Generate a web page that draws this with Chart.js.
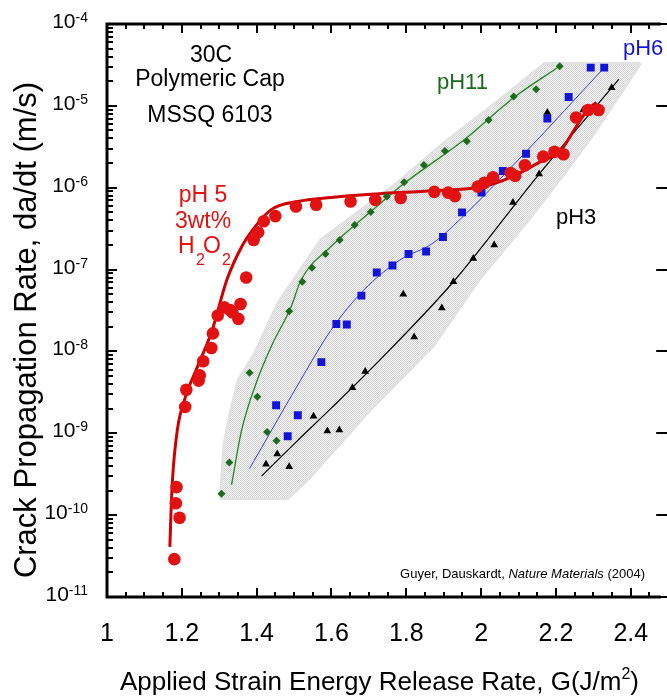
<!DOCTYPE html>
<html>
<head>
<meta charset="utf-8">
<script src="https://cdn.jsdelivr.net/npm/chart.js@4.4.1/dist/chart.umd.min.js"></script>
<style>
  html, body { margin: 0; padding: 0; background: #fff; overflow: hidden; }
</style>
</head>
<body>
<canvas id="crackChart" width="667" height="698"></canvas>
<script>
// tick labels
const xTickLabels = [1, 1.2, 1.4, 1.6, 1.8, 2, 2.2, 2.4];
const yTickExponents = [-4, -5, -6, -7, -8, -9, -10, -11];

// pH 5 + 3wt% H2O2 (red circles) and its fit
const ph5G = [1.180, 1.194, 1.184, 1.186, 1.209, 1.212, 1.245, 1.248, 1.257, 1.279, 1.283, 1.296, 1.314, 1.329, 1.335, 1.351, 1.357, 1.372, 1.392, 1.404, 1.419, 1.450, 1.505, 1.559, 1.651, 1.717, 1.785, 1.875, 1.912, 1.930, 1.991, 2.009, 2.032, 2.079, 2.091, 2.117, 2.166, 2.196, 2.220, 2.254, 2.286, 2.314];
const ph5Rate = [2.9e-11, 9.3e-11, 1.4e-10, 2.2e-10, 2.1e-9, 3.4e-9, 4.4e-9, 5.1e-9, 7.6e-9, 1.1e-8, 1.66e-8, 2.75e-8, 3.45e-8, 3.2e-8, 3.0e-8, 2.5e-8, 3.8e-8, 8.0e-8, 2.3e-7, 2.85e-7, 3.9e-7, 4.5e-7, 5.9e-7, 6.2e-7, 6.8e-7, 7.1e-7, 7.5e-7, 8.9e-7, 8.7e-7, 7.9e-7, 1.03e-6, 1.15e-6, 1.34e-6, 1.51e-6, 1.4e-6, 1.88e-6, 2.4e-6, 2.75e-6, 2.56e-6, 7.2e-6, 8.9e-6, 8.9e-6];
const ph5FitG = [1.168, 1.171, 1.175, 1.188, 1.210, 1.246, 1.281, 1.320, 1.360, 1.395, 1.439, 1.510, 1.598, 1.721, 1.871, 2.003, 2.082, 2.152, 2.214, 2.249, 2.284, 2.308];
const ph5FitRate = [4.1e-11, 1.05e-10, 2.7e-10, 1.1e-9, 2.8e-9, 7.2e-9, 1.8e-8, 7.4e-8, 1.9e-7, 3.3e-7, 5.4e-7, 6.8e-7, 7.6e-7, 8.4e-7, 9.2e-7, 1.03e-6, 1.36e-6, 2.0e-6, 2.9e-6, 5.1e-6, 8.9e-6, 1.1e-5];

// pH 11 (green diamonds)
const ph11G = [1.306, 1.327, 1.381, 1.402, 1.428, 1.453, 1.487, 1.522, 1.548, 1.584, 1.622, 1.662, 1.705, 1.748, 1.794, 1.847, 1.903, 1.962, 2.020, 2.087, 2.147, 2.210];
const ph11Rate = [1.83e-10, 4.4e-10, 5.5e-9, 2.8e-9, 1.04e-9, 8.1e-10, 3.1e-8, 7.1e-8, 1.05e-7, 1.55e-7, 2.3e-7, 3.5e-7, 5.05e-7, 7.8e-7, 1.17e-6, 1.9e-6, 2.8e-6, 3.7e-6, 6.7e-6, 1.3e-5, 1.6e-5, 3.04e-5];
const ph11FitG = [1.333, 1.360, 1.402, 1.439, 1.492, 1.519, 1.598, 1.721, 1.783, 1.959, 2.091, 2.210];
const ph11FitRate = [2.36e-10, 1.1e-9, 4.5e-9, 1.15e-8, 3.5e-8, 7.5e-8, 1.9e-7, 5.9e-7, 1.03e-6, 4.0e-6, 1.3e-5, 3.04e-5];

// pH 6 (blue squares)
const ph6G = [1.452, 1.483, 1.510, 1.573, 1.613, 1.641, 1.680, 1.721, 1.763, 1.806, 1.853, 1.898, 1.949, 2.001, 2.058, 2.120, 2.177, 2.234, 2.293, 2.329];
const ph6Rate = [2.2e-9, 9.2e-10, 1.66e-9, 7.4e-9, 2.16e-8, 2.13e-8, 4.8e-8, 9.2e-8, 1.12e-7, 1.55e-7, 1.66e-7, 2.5e-7, 5.0e-7, 8.7e-7, 1.6e-6, 2.6e-6, 7.0e-6, 1.28e-5, 2.93e-5, 2.93e-5];
const ph6FitG = [1.381, 1.518, 1.598, 1.686, 1.783, 1.871, 1.946, 2.117, 2.329];
const ph6FitRate = [3.7e-10, 4.5e-9, 1.8e-8, 5.6e-8, 1.31e-7, 2.1e-7, 4.2e-7, 2.66e-6, 2.93e-5];

// pH 3 (black triangles)
const ph3G = [1.425, 1.455, 1.487, 1.552, 1.589, 1.621, 1.656, 1.690, 1.792, 1.821, 1.895, 1.926, 1.979, 2.035, 2.085, 2.155, 2.177, 2.205, 2.273, 2.349];
const ph3Rate = [4.2e-10, 5.6e-10, 3.9e-10, 1.62e-9, 1.07e-9, 1.1e-9, 3.6e-9, 5.7e-9, 5.0e-8, 1.5e-8, 3.4e-8, 7.1e-8, 1.37e-7, 2.0e-7, 6.6e-7, 1.47e-6, 8.3e-6, 2.6e-6, 8.9e-6, 1.67e-5];
const ph3FitG = [1.413, 1.510, 1.598, 1.721, 1.926, 2.155, 2.368];
const ph3FitRate = [3.0e-10, 8.2e-10, 2.0e-9, 7.2e-9, 7.1e-8, 1.47e-6, 2.1e-5];

// grey band enclosing the pH 3..11 data
const bandLowerG = [1.303, 1.483, 1.536, 1.695, 1.783, 1.871, 1.994, 2.126, 2.223, 2.302, 2.426];
const bandLowerRate = [1.6e-10, 1.6e-10, 2.7e-10, 1.75e-9, 4.5e-9, 1.15e-8, 7.5e-8, 4.0e-7, 1.5e-6, 4.6e-6, 3.3e-5];
const bandUpperG = [1.303, 1.312, 1.329, 1.351, 1.395, 1.457, 1.571, 1.642, 1.774, 1.906, 2.038, 2.170, 2.426];
const bandUpperRate = [1.6e-10, 6.9e-10, 1.75e-9, 4.5e-9, 9.5e-9, 3.9e-8, 2.3e-7, 4.0e-7, 1.13e-6, 3.7e-6, 1.08e-5, 3.3e-5, 3.3e-5];

const pts = (xs, ys) => xs.map((v, i) => ({ x: v, y: ys[i] }));

// checkered grey fill like the original
function makeHatch() {
  const c = document.createElement('canvas');
  c.width = 2; c.height = 2;
  const g = c.getContext('2d');
  g.fillStyle = '#f5f5f5';
  g.fillRect(0, 0, 2, 2);
  g.fillStyle = '#d3d3d3';
  g.fillRect(0, 0, 1, 1);
  g.fillRect(1, 1, 1, 1);
  return g.createPattern(c, 'repeat');
}

const RED = '#e31212';
const GREEN = '#1b6b1b';
const BLUE = '#1414d8';
const FONT = 'Arial, "Liberation Sans"';

function sup(ctx, base, exp, xRight, y, bigFont, smallFont) {
  ctx.font = smallFont;
  const ws = ctx.measureText(exp).width;
  ctx.textAlign = 'left';
  ctx.fillText(exp, xRight - ws, y - 6);
  ctx.font = bigFont;
  ctx.textAlign = 'right';
  ctx.fillText(base, xRight - ws, y);
}

const frame = {
  id: 'frame',
  afterDraw(chart) {
    const { ctx, chartArea: a, scales: { x, y } } = chart;
    ctx.save();
    ctx.strokeStyle = '#000';
    ctx.fillStyle = '#000';

    ctx.lineWidth = 3;
    ctx.beginPath();
    ctx.moveTo(a.left - 1.5, a.top); ctx.lineTo(a.right, a.top);
    ctx.moveTo(a.left, a.top); ctx.lineTo(a.left, a.bottom);
    ctx.moveTo(a.left - 1.5, a.bottom); ctx.lineTo(a.right, a.bottom);
    ctx.stroke();

    // x ticks, top and bottom, pointing inward
    ctx.lineWidth = 2;
    ctx.beginPath();
    for (let i = 0; i <= 30; i++) {
      const px = Math.round(x.getPixelForValue(1 + i * 0.05));
      const len = i % 4 === 0 ? 9 : 5;
      ctx.moveTo(px, a.bottom); ctx.lineTo(px, a.bottom - len);
      ctx.moveTo(px, a.top); ctx.lineTo(px, a.top + len);
    }
    // y ticks on the left (log minors), majors on the right
    const rightAxis = x.getPixelForValue(2.5);
    for (let e = -11; e <= -4; e++) {
      for (let m = 1; m <= 9; m++) {
        if (e === -4 && m > 1) break;
        const py = Math.round(y.getPixelForValue(m * Math.pow(10, e)));
        const len = m === 1 ? 10 : 6;
        ctx.moveTo(a.left, py); ctx.lineTo(a.left + len, py);
        if (m === 1) { ctx.moveTo(rightAxis, py); ctx.lineTo(rightAxis - 12, py); }
      }
    }
    ctx.stroke();

    // tick labels
    ctx.textBaseline = 'alphabetic';
    yTickExponents.forEach(e => {
      const py = y.getPixelForValue(Math.pow(10, e));
      sup(ctx, '10', String(e), 88, py + 4, '21px ' + FONT, '14px ' + FONT);
    });
    ctx.font = '25px ' + FONT;
    ctx.textAlign = 'center';
    xTickLabels.forEach(v => ctx.fillText(String(v), x.getPixelForValue(v), 641));

    // axis titles
    ctx.save();
    ctx.translate(36, 330);
    ctx.rotate(-Math.PI / 2);
    ctx.font = '31px ' + FONT;
    ctx.textAlign = 'center';
    ctx.fillText('Crack Propagation Rate, da/dt (m/s)', 0, 0);
    ctx.restore();

    ctx.font = '26px ' + FONT;
    const t1 = 'Applied Strain Energy Release Rate, G(J/m';
    const w1 = ctx.measureText(t1).width;
    ctx.font = '16px ' + FONT;
    const w2 = ctx.measureText('2').width;
    ctx.font = '26px ' + FONT;
    const w3 = ctx.measureText(')').width;
    const tx = 120;
    ctx.textAlign = 'left';
    ctx.fillText(t1, tx, 690);
    ctx.font = '16px ' + FONT;
    ctx.fillText('2', tx + w1, 679);
    ctx.font = '26px ' + FONT;
    ctx.fillText(')', tx + w1 + w2, 690);

    // annotations
    ctx.textAlign = 'center';
    ctx.font = '23px ' + FONT;
    ctx.fillText('30C', 211, 62);
    ctx.fillText('Polymeric Cap', 210, 86);
    ctx.fillText('MSSQ 6103', 210, 122);

    ctx.fillStyle = RED;
    ctx.fillText('pH 5', 203, 202);
    ctx.fillText('3wt%', 203, 228);
    ctx.textAlign = 'left';
    ctx.fillText('H', 178, 253);
    ctx.fillText('O', 203, 253);
    ctx.font = '16px ' + FONT;
    ctx.fillText('2', 196, 265);
    ctx.fillText('2', 222, 265);

    ctx.font = '22px ' + FONT;
    ctx.fillStyle = GREEN;
    ctx.fillText('pH11', 437, 89);
    ctx.fillStyle = BLUE;
    ctx.fillText('pH6', 623, 55);
    ctx.fillStyle = '#000';
    ctx.fillText('pH3', 556, 224);

    // citation, right aligned
    const c1 = 'Guyer, Dauskardt, ', c2 = 'Nature Materials', c3 = ' (2004)';
    ctx.font = '13px ' + FONT;
    const cw1 = ctx.measureText(c1).width, cw3 = ctx.measureText(c3).width;
    ctx.font = 'italic 13px ' + FONT;
    const cw2 = ctx.measureText(c2).width;
    const cx = 645 - (cw1 + cw2 + cw3);
    ctx.font = '13px ' + FONT;
    ctx.fillText(c1, cx, 578);
    ctx.font = 'italic 13px ' + FONT;
    ctx.fillText(c2, cx + cw1, 578);
    ctx.font = '13px ' + FONT;
    ctx.fillText(c3, cx + cw1 + cw2, 578);
    ctx.restore();
  }
};

const fitLine = (data, color, width) => ({
  data, borderColor: color, borderWidth: width, pointRadius: 0,
  cubicInterpolationMode: 'monotone', fill: false, order: 2
});
const marks = (data, color, style, r) => ({
  data, showLine: false, pointStyle: style, pointRadius: r,
  backgroundColor: color, borderColor: color, borderWidth: 0, order: 1
});

const ctx = document.getElementById('crackChart').getContext('2d');
new Chart(ctx, {
  type: 'line',
  data: {
    datasets: [
      marks(pts(ph5G, ph5Rate), RED, 'circle', 6.3),
      marks(pts(ph11G, ph11Rate), GREEN, 'rectRot', 4),
      marks(pts(ph6G, ph6Rate), BLUE, 'rect', 5.6),
      marks(pts(ph3G, ph3Rate), '#000', 'triangle', 4.5),
      fitLine(pts(ph5FitG, ph5FitRate), '#d00000', 3),
      fitLine(pts(ph11FitG, ph11FitRate), '#218a21', 1.3),
      fitLine(pts(ph6FitG, ph6FitRate), '#3a3aee', 1),
      fitLine(pts(ph3FitG, ph3FitRate), '#000', 1.2),
      { data: pts(bandLowerG, bandLowerRate), borderColor: '#e2e2e2', borderWidth: 3,
        pointRadius: 0, tension: 0, fill: false, order: 10 },
      { data: pts(bandUpperG, bandUpperRate), borderColor: '#e2e2e2', borderWidth: 3,
        pointRadius: 0, tension: 0, fill: '-1', backgroundColor: makeHatch(), order: 10 }
    ]
  },
  options: {
    responsive: false,
    animation: false,
    devicePixelRatio: 1,
    layout: { padding: { left: 107, top: 24, right: 0, bottom: 101 } },
    plugins: { legend: { display: false }, tooltip: { enabled: false } },
    scales: {
      x: { type: 'linear', min: 1, max: 2.48, display: false },
      y: { type: 'logarithmic', min: 1e-11, max: 1e-4, display: false }
    }
  },
  plugins: [frame]
});
</script>
</body>
</html>
